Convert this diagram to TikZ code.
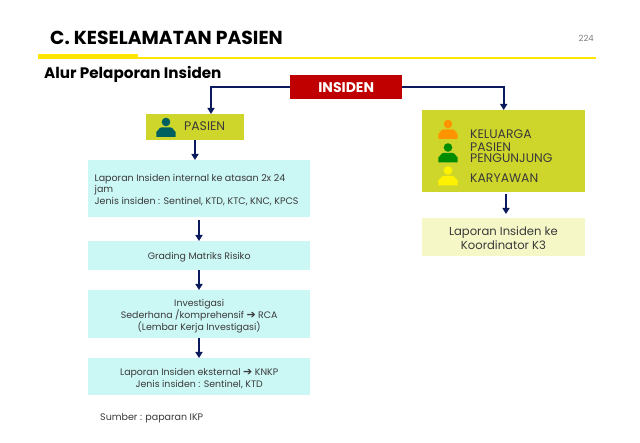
\documentclass[tikz,border=0pt]{standalone}
\usepackage{fontspec}
\setmainfont{Poppins}
\usetikzlibrary{arrows.meta}
\definecolor{navy}{HTML}{0A1A5C}
\definecolor{cyanbox}{HTML}{CBF7F5}
\definecolor{olivebox}{HTML}{CFD62B}
\definecolor{creambox}{HTML}{F5F7C6}
\definecolor{redbox}{HTML}{C00000}
\definecolor{rule}{HTML}{FFE600}
\definecolor{txt}{HTML}{3A3A3A}
\newfontfamily\arrowfont{DejaVu Sans}
\newcommand{\rarr}{{\arrowfont\bfseries\fontsize{11}{11}\selectfont\char"2794}}
\tikzset{
  x=1pt,y=-1pt,
  box/.style={fill=#1,draw=none,inner sep=0pt,anchor=north west,text=txt},
  bodytext/.style={font=\fontsize{9.4}{11.8}\selectfont,align=center,inner sep=0pt,text=txt,yshift=-1.7pt},
  conn/.style={draw=navy,line width=2.2pt,-{Triangle[length=6pt,width=7pt]}},
  persontext/.style={font=\fontsize{12.4}{11}\selectfont,text=txt,inner sep=0pt,anchor=west},
}
\newcommand{\person}[3]{% colour, cx, head y
  \fill[#1] (#2,#3) circle[radius=4.3];
  \fill[#1] (#2-9.7,#3+15) -- (#2-9.7,#3+9.3) to[out=-90,in=180] (#2-4.5,#3+5.3) -- (#2+4.5,#3+5.3) to[out=0,in=-90] (#2+9.7,#3+9.3) -- (#2+9.7,#3+15) -- cycle;
}
\begin{document}
\begin{tikzpicture}
\useasboundingbox (0,0) rectangle (640,443);
\fill[white] (0,0) rectangle (640,443);
% title and rules
\node[anchor=west,inner sep=0pt,font=\fontsize{18.8}{20}\selectfont\bfseries] (title) at (50,37.5) {C. KESELAMATAN PASIEN};
\node[anchor=east,inner sep=0pt,font=\fontsize{8.5}{10}\selectfont,text=gray] (page) at (594,38) {224};
\fill[rule] (38,56.7) rectangle (596,59.3);
\fill[rule] (38,54) rectangle (138,59.3);
\node[anchor=west,inner sep=0pt,font=\fontsize{15.2}{17}\selectfont\bfseries] (sub) at (44,74.5) {Alur Pelaporan Insiden};
% boxes
\node[box=redbox,minimum width=112pt,minimum height=23.7pt] (ins) at (290,75) {};
\node[text=white,inner sep=0pt,yshift=-0.8pt,font=\fontsize{14}{15}\selectfont\bfseries] (inst) at (ins.center) {INSIDEN};
\node[box=olivebox,minimum width=98pt,minimum height=26pt] (pas) at (146,114) {};
\node[box=cyanbox,minimum width=222pt,minimum height=57pt] (b1) at (88,160) {};
\node[box=cyanbox,minimum width=222pt,minimum height=29pt] (b2) at (88,241) {};
\node[bodytext] (b2t) at (b2.center) {Grading Matriks Risiko};
\node[box=cyanbox,minimum width=222pt,minimum height=48pt] (b3) at (88,290) {};
\node[bodytext] (b3t) at (b3.center) {Investigasi\\Sederhana /komprehensif \rarr{} RCA\\(Lembar Kerja Investigasi)};
\node[box=cyanbox,minimum width=222pt,minimum height=37pt] (b4) at (88,358) {};
\node[bodytext] (b4t) at (b4.center) {Laporan Insiden eksternal \rarr{} KNKP\\Jenis insiden : Sentinel, KTD};
\node[box=olivebox,minimum width=163.5pt,minimum height=82pt] (kel) at (421.5,110) {};
\node[box=creambox,minimum width=163.5pt,minimum height=38pt] (k3) at (421.5,218) {};
\node[inner sep=0pt,text=txt,yshift=-1pt,font=\fontsize{11.6}{14.5}\selectfont,align=center] (k3t) at (k3.center) {Laporan Insiden ke\\Koordinator K3};
% box texts
\node[anchor=west,inner sep=0pt,text=txt,font=\fontsize{9.5}{11.8}\selectfont,align=left] (b1t) at (94.5,190) {Laporan Insiden internal ke atasan 2x 24\\jam\\Jenis insiden : Sentinel, KTD, KTC, KNC, KPCS};
\node[persontext] (pt) at (184,125.7) {PASIEN};
\person{teal!75!black}{166}{122}
\node[persontext] (t1) at (470,133.7) {KELUARGA};
\node[persontext,align=left] (t2) at (470,153) {PASIEN\\PENGUNJUNG};
\node[persontext] (t3) at (470,177.7) {KARYAWAN};
\person{orange!85!yellow}{448}{124}
\person{green!55!black}{448}{147.5}
\person{yellow}{448}{170.5}
\node[anchor=west,inner sep=0pt,text=txt,font=\fontsize{9.5}{11}\selectfont] (src) at (100,418) {Sumber : paparan IKP};
% connectors
\coordinate (pasIn) at (211,114);
\coordinate (kelIn) at (503.7,110);
\coordinate (pasOut) at (195,140);
\coordinate (b1In) at (195,160);
\coordinate (b1Out) at (199,220);
\coordinate (b2In) at (199,241);
\coordinate (b2Out) at (199,270);
\coordinate (b3In) at (199,290);
\coordinate (b3Out) at (199,338);
\coordinate (b4In) at (199,358);
\coordinate (kelOut) at (506,194);
\coordinate (k3In) at (506,214);
\draw[conn] (ins.west) -| (pasIn);
\draw[conn] (ins.east) -| (kelIn);
\draw[conn] (pasOut) -- (b1In);
\draw[conn] (b1Out) -- (b2In);
\draw[conn] (b2Out) -- (b3In);
\draw[conn] (b3Out) -- (b4In);
\draw[conn] (kelOut) -- (k3In);
\end{tikzpicture}
\end{document}
